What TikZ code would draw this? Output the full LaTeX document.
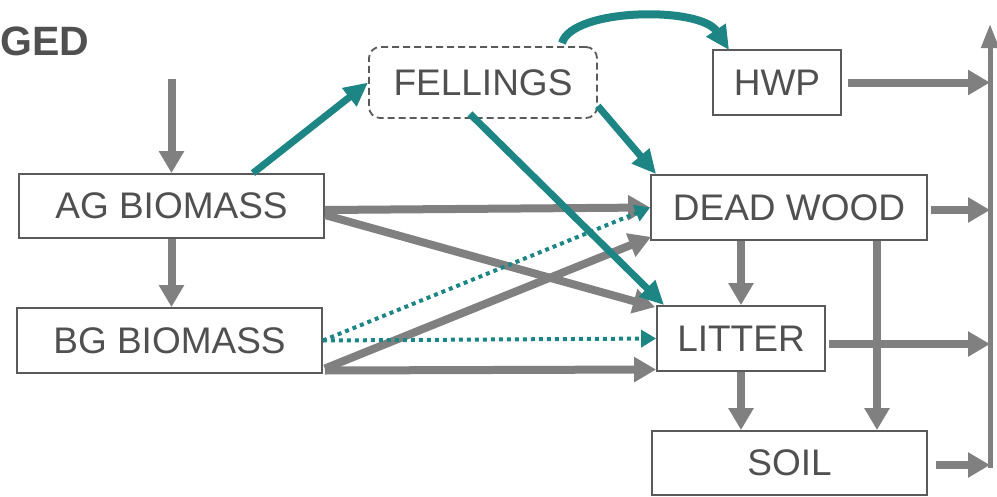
\documentclass[tikz,border=0pt]{standalone}
\usepackage{fontspec}
\setmainfont{Liberation Sans}
\usetikzlibrary{arrows.meta,calc}
\definecolor{txt}{HTML}{505050}
\definecolor{bord}{HTML}{5A5A5A}
\definecolor{flow}{HTML}{808080}
\definecolor{teal}{HTML}{1E8585}
\tikzset{
  box/.style={draw=bord, line width=1.8pt, fill=white, text=txt, inner sep=0pt,
    font=\fontsize{37}{40}\selectfont},
  grayarrow/.style={draw=flow, line width=8pt, -{Triangle[length=22pt,width=24pt]}},
  tealarrow/.style={draw=teal, line width=7pt, -{Triangle[length=24pt,width=22pt]}},
  tealdot/.style={draw=teal, line width=4pt, dash pattern=on 4pt off 4pt, -{Triangle[length=15pt,width=17pt]}},
  bar/.style={draw=flow, line width=5pt}
}
\begin{document}
\begin{tikzpicture}[x=1pt,y=-1pt]
\useasboundingbox (0,0) rectangle (997,496);
\node[anchor=base west, inner sep=0pt, text=txt, font=\fontsize{41}{44}\selectfont\bfseries] (title) at (0.5,55) {GED};
% nodes
\node[box, minimum width=305pt, minimum height=64pt] (ag) at (171.5,206) {AG BIOMASS};
\node[box, minimum width=305pt, minimum height=65pt] (bg) at (169.5,340.5) {BG BIOMASS};
\node[box, dashed, dash pattern=on 7pt off 4pt, rounded corners=11pt, minimum width=228pt, minimum height=71pt] (fell) at (483,82.5) {FELLINGS};
\node[box, minimum width=128pt, minimum height=65pt] (hwp) at (777,82.5) {HWP};
\node[box, minimum width=276pt, minimum height=65pt] (dw) at (789,207.5) {DEAD WOOD};
\node[box, minimum width=168pt, minimum height=65pt] (lit) at (741,338.5) {LITTER};
\node[box, minimum width=275pt, minimum height=64pt] (soil) at (789.5,463) {SOIL};
% bar on right
\coordinate (bartop) at (990,24);
\coordinate (barbot) at (990,468);
\draw[bar, -{Triangle[length=24pt,width=17pt]}] (barbot) -- (bartop);
\coordinate (b1) at (990,82.5);
\coordinate (b2) at (990,210);
\coordinate (b3) at (990,344);
\coordinate (b4) at (990,465);
\coordinate (src) at (171.5,79);
% gray flows
\draw[grayarrow] (src) -- (ag.north);
\draw[grayarrow] (ag.south) -- (ag.south |- bg.north);
\draw[grayarrow] ([yshift=-4pt]ag.east) -- (dw.west);
\draw[grayarrow] ([yshift=-9pt]ag.east) -- ([xshift=-1pt,yshift=-2pt]lit.north west);
\draw[grayarrow] ([xshift=2pt,yshift=-28pt]bg.east) -- ([xshift=1pt,yshift=4pt]dw.south west);
\draw[grayarrow] ([xshift=2pt,yshift=-30pt]bg.east) -- ([yshift=-31pt]lit.west);
\draw[grayarrow] ([xshift=6pt]hwp.east) -- (b1);
\draw[grayarrow] ([xshift=3pt,yshift=-2.5pt]dw.east) -- (b2);
\draw[grayarrow] ([xshift=3pt,yshift=-5.5pt]lit.east) -- (b3);
\draw[grayarrow] ([xshift=8pt,yshift=-2pt]soil.east) -- (b4);
\draw[grayarrow] (lit.north |- dw.south) -- (lit.north);
\draw[grayarrow] ([xshift=88pt]dw.south) -- ([xshift=88pt]dw.south |- soil.north);
\draw[grayarrow] (lit.south) -- (lit.south |- soil.north);
% teal flows
\draw[tealdot] (bg.east) -- (lit.west);
\draw[tealdot] (bg.east) -- (dw.west);
\draw[tealarrow] ([xshift=81.5pt]ag.north) -- (fell.west);
\draw[tealarrow] ([yshift=-23.5pt]fell.east) -- ([xshift=6pt]dw.north west);
\draw[tealarrow] ([xshift=-13pt,yshift=5pt]fell.south) -- ([xshift=8pt]lit.north west);
\draw[tealarrow, line width=8pt] ([xshift=79pt,yshift=3pt]fell.north) .. controls (572,8) and (700,6) .. ([xshift=17pt,yshift=-1pt]hwp.north west);
\end{tikzpicture}
\end{document}
